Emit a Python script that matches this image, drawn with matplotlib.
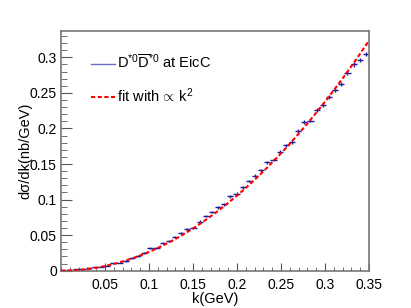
import numpy as np
import matplotlib.pyplot as plt
from matplotlib.ticker import MultipleLocator, FixedLocator

plt.rcParams['font.family'] = ['Liberation Sans', 'DejaVu Sans']
plt.rcParams['mathtext.fontset'] = 'custom'
plt.rcParams['mathtext.rm'] = 'Liberation Sans'
plt.rcParams['mathtext.it'] = 'Liberation Sans:italic'

# bin centres (GeV), 50 bins of width 0.007
k_centres = [0.0035 + 0.007 * i for i in range(50)]
bin_half = 0.0035

# d sigma / dk (nb/GeV)
xsec = [0.0005, 0.0009, 0.0019, 0.0019, 0.0033, 0.0047, 0.0056, 0.0070, 0.0103, 0.0113,
        0.0136, 0.0173, 0.0211, 0.0244, 0.0314, 0.0323, 0.0384, 0.0413, 0.0469, 0.0525,
        0.0581, 0.0600, 0.0689, 0.0769, 0.0825, 0.0891, 0.0933, 0.1045, 0.1083, 0.1172,
        0.1261, 0.1336, 0.1411, 0.1524, 0.1561, 0.1669, 0.1763, 0.1810, 0.1964, 0.2086,
        0.2110, 0.2260, 0.2330, 0.2438, 0.2540, 0.2620, 0.2785, 0.2900, 0.2960, 0.3047]
xsec_err = [0.0003, 0.0004, 0.0005, 0.0005, 0.0006, 0.0007, 0.0007, 0.0008, 0.0009, 0.0009,
            0.0010, 0.0011, 0.0012, 0.0012, 0.0013, 0.0013, 0.0014, 0.0015, 0.0015, 0.0016,
            0.0016, 0.0017, 0.0017, 0.0018, 0.0018, 0.0019, 0.0019, 0.0020, 0.0020, 0.0021,
            0.0021, 0.0022, 0.0022, 0.0023, 0.0023, 0.0024, 0.0024, 0.0025, 0.0025, 0.0026,
            0.0026, 0.0027, 0.0027, 0.0028, 0.0028, 0.0029, 0.0029, 0.0030, 0.0030, 0.0031]

# fit: sigma ~ a * k^2
fit_coef = 2.64
fit_k = np.linspace(0.0, 0.35, 200)

fig = plt.figure(figsize=(4.11, 3.08), dpi=100)
ax = fig.add_axes([0.1484, 0.1211, 0.7494, 0.7783])

ax.plot(fit_k, fit_coef * fit_k**2, color='red', lw=1.5, dashes=(2, 1.2),
        label=r'fit with $\!\propto\!$ k$^2$', zorder=3)
ax.errorbar(k_centres, xsec, xerr=bin_half, yerr=xsec_err, fmt='none',
            ecolor='#1c1c9c', elinewidth=1.0, capsize=0, zorder=2)
ax.plot([], [], color='#6b6bd0', lw=1.0,
        label=r'$\mathrm{D}^{*0}\overline{\mathrm{D}}^{*0}$ at EicC')

ax.set_xlim(0, 0.35)
ax.set_ylim(0, 0.337)

ax.xaxis.set_major_locator(FixedLocator([0.05, 0.1, 0.15, 0.2, 0.25, 0.3, 0.35]))
ax.set_xticklabels(['0.05', '0.1', '0.15', '0.2', '0.25', '0.3', '0.35'])
ax.xaxis.set_minor_locator(MultipleLocator(0.01))
ax.yaxis.set_major_locator(FixedLocator([0, 0.05, 0.1, 0.15, 0.2, 0.25, 0.3]))
ax.set_yticklabels(['0', '0.05', '0.1', '0.15', '0.2', '0.25', '0.3'])
ax.yaxis.set_minor_locator(MultipleLocator(0.01))

ax.tick_params(which='both', direction='in', top=False, right=False,
               labelsize=10, color='#555555')
ax.tick_params(axis='x', which='major', length=6, pad=5)
ax.tick_params(axis='x', which='minor', length=3)
ax.tick_params(axis='y', which='major', length=8, pad=3)
ax.tick_params(axis='y', which='minor', length=4)
for s in ax.spines.values():
    s.set_color('#777777')
    s.set_linewidth(1.2)

ax.set_xlabel('k(GeV)', fontsize=10.5, labelpad=0)
ax.set_ylabel('dσ/dk(nb/GeV)', fontsize=10.5, labelpad=-2)

h, l = ax.get_legend_handles_labels()
ax.legend(h[::-1], l[::-1], loc='upper left', bbox_to_anchor=(0.08, 0.93),
          frameon=False, fontsize=10.5, handlelength=1.6, handletextpad=0.15,
          labelspacing=1.0, borderaxespad=0)

fig.savefig('out.png', dpi=100)
